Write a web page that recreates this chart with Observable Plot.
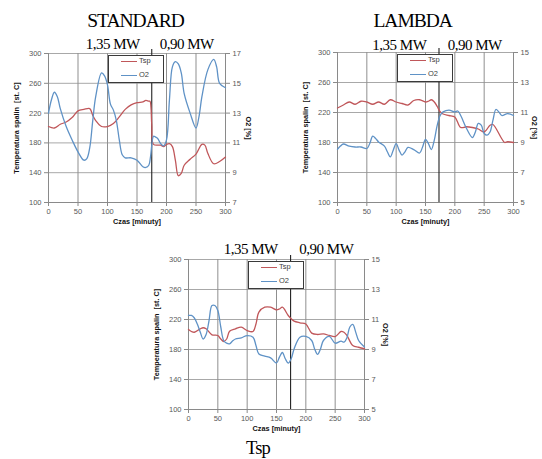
<!DOCTYPE html>
<html>
<head>
<meta charset="utf-8">
<script src="https://cdn.jsdelivr.net/npm/d3@7"></script>
<script src="https://cdn.jsdelivr.net/npm/@observablehq/plot@0.6"></script>
<style>
  html, body { margin: 0; padding: 0; background: #fff; }
  #wrap { position: relative; width: 542px; height: 459px; overflow: hidden; background: #fff; }
  .panel { position: absolute; }
  .serif { position: absolute; font-family: "Liberation Serif", "Times New Roman", serif; color: #000; line-height: 1; white-space: nowrap; transform: translateX(-50%); }
  .big { font-size: 19.5px; letter-spacing: -1px; }
  .bottom { font-size: 18.5px; letter-spacing: -0.8px; }
  .mw { font-size: 15px; letter-spacing: -0.5px; }
  .legend { position: absolute; width: 56px; height: 28px; box-sizing: border-box; border: 1.4px solid #3a3a3a; background: #fff; font-family: "Liberation Sans", Arial, sans-serif; font-size: 7.5px; color: #404040; }
  .legend .sw { position: absolute; left: 11.5px; width: 16px; height: 0; border-top: 1.3px solid; }
  .legend .lb { position: absolute; left: 30px; line-height: 1; transform: translateY(-50%); }
</style>
</head>
<body>
<div id="wrap"></div>
<script>
// ---------- data ----------
const timeTicks = [0, 50, 100, 150, 200, 250, 300];
const tempTicks = [100, 140, 180, 220, 260, 300];
const o2TicksStandard = [7, 9, 11, 13, 15, 17];
const o2TicksLambda = [5, 7, 9, 11, 13, 15];
const o2TicksThird = [5, 7, 9, 11, 13, 15];
const switchTimes = [175, 173, 174];   // moment of change 1,35 MW -> 0,90 MW
const powerLabels = ["1,35 MW", "0,90 MW"];
const panelTitles = ["STANDARD", "LAMBDA", "Tsp"];
const seriesNames = ["Tsp", "O2"];

// STANDARD
const stdTspTime = [0,10,20,30,40,50,60,70,75,80,90,100,110,120,130,140,150,160,165,170,172,175,178,190,195,200,205,210,215,220,225,230,240,250,260,265,270,280,290,300];
const stdTsp     = [202,200,205,208,214,223,225,226,217,210,202,202,206,215,225,231,234,235,237,236,236,205,178,177,175,178,179,175,157,136,139,150,158,165,178,177,166,152,155,161];
const stdO2Time  = [0,5,10,15,20,30,40,50,60,65,70,75,80,90,95,100,105,110,115,120,125,130,140,150,160,165,170,173,178,181,185,190,195,200,205,210,215,220,225,230,240,250,255,260,270,280,285,290,300];
const stdO2      = [13.0,13.9,14.4,14.1,13.3,12.1,11.2,10.4,9.84,9.95,10.7,12.5,14.1,15.7,15.5,14.9,13.6,13.2,12.5,11.2,10.2,10.0,10.0,9.84,9.4,9.35,9.5,10.1,11.45,11.4,11.3,10.96,10.8,11.2,13.9,16.1,16.45,16.3,15.7,14.3,13.0,12.0,12.75,14.1,15.9,16.6,16.1,15.0,14.7];

// LAMBDA
const lamTspTime = [0,10,20,30,40,50,60,70,80,90,100,110,120,130,140,150,155,160,165,170,175,180,190,200,210,220,230,240,250,260,265,270,280,285,290,300];
const lamTsp     = [226,230,234,231,235,234,231,234,231,237,234,232,230,236,237,234,235,237,234,228,221,218,216,214,200,201,200,198,194,203,204,199,185,180,181,180];
const lamO2Time  = [0,5,10,20,30,40,50,55,60,65,70,80,85,90,95,100,105,110,115,120,130,140,145,150,155,160,165,170,175,180,190,200,205,210,220,230,235,240,245,250,255,260,265,270,275,280,290,300];
const lamO2      = [8.55,8.76,8.9,8.76,8.7,8.7,8.6,8.93,9.42,9.27,9.04,8.76,8.38,8.04,8.49,8.93,8.49,8.16,8.38,8.67,8.53,8.3,8.7,9.2,8.93,8.53,9.16,10.16,10.8,11.04,11.16,11.04,11.1,10.8,9.93,9.33,9.7,10.27,10.16,9.6,9.49,9.7,10.49,11.2,11.04,10.8,10.93,10.8];

// third panel
const thrTspTime = [0,5,10,20,25,30,40,50,55,60,65,70,80,90,100,110,115,120,130,140,150,155,160,170,175,180,190,200,210,220,230,240,250,260,265,270,280,290,300];
const thrTsp     = [206.7,204,203,207.6,209,207.6,199.6,198.7,194,190.7,194,204.4,207.6,209.8,205.3,204,214,229.8,236.4,236.4,232.9,234,236.4,225.3,221,217.8,215.6,214,201.8,200,200.9,198.7,197.3,204,203,198.7,185.3,183,181];
const thrO2Time  = [0,5,10,15,20,25,30,35,40,45,50,55,60,65,70,75,80,90,100,110,115,120,130,140,150,155,160,165,170,175,180,190,200,210,215,220,225,230,240,250,260,265,270,275,280,285,290,300];
const thrO2      = [11.27,11.27,11.1,10.7,10.16,9.7,10.0,10.93,11.93,11.93,11.6,10.5,9.6,9.42,9.38,9.56,9.7,9.78,9.93,9.82,9.27,8.7,8.56,8.44,8.1,8.49,8.8,8.38,8.09,8.38,9.04,9.82,9.87,9.6,9.04,8.67,9.04,9.6,9.87,9.42,9.56,9.49,9.78,10.5,10.67,10.16,9.6,9.16];

// ---------- drawing ----------
const RED = "#c0575a";
const BLUE = "#5f92c6";
const wrap = document.getElementById("wrap");

function drawPanel(cfg) {
  const o2Min = cfg.o2Ticks[0];
  const toT = o => 100 + (o - o2Min) * 20;
  const tspData = cfg.tspTime.map((t, i) => ({t, v: cfg.tsp[i]}));
  const o2Data = cfg.o2Time.map((t, i) => ({t, v: toT(cfg.o2[i])}));
  const chart = Plot.plot({
    width: cfg.w, height: cfg.h,
    marginLeft: cfg.ml, marginRight: cfg.mr, marginTop: cfg.mt, marginBottom: cfg.mb,
    x: {domain: [0, 300]},
    y: {domain: [100, 300]},
    style: {fontFamily: "'Liberation Sans', Arial, sans-serif", fontSize: "7.5px", color: "#595959", background: "transparent", overflow: "visible"},
    marks: [
      Plot.gridY(tempTicks, {stroke: "#a8a8a8", strokeOpacity: 1}),
      Plot.gridX(timeTicks, {stroke: "#8f8f8f", strokeOpacity: 1}),
      Plot.ruleX([0, 300], {stroke: "#8a8a8a"}),
      Plot.ruleY([100], {stroke: "#8a8a8a"}),
      Plot.axisY(tempTicks, {anchor: "left", tickSize: 4, tickPadding: 3, label: null, stroke: "#8a8a8a"}),
      Plot.axisY(cfg.o2Ticks.map(toT), {anchor: "right", tickSize: 4, tickPadding: 3, label: null, stroke: "#8a8a8a", tickFormat: d => Math.round((d - 100) / 20 + o2Min)}),
      Plot.axisX(timeTicks, {anchor: "bottom", tickSize: 4, tickPadding: 2, label: null, stroke: "#8a8a8a"}),
      Plot.ruleX([cfg.switchT], {stroke: "#222", strokeWidth: 1.1, insetTop: -4}),
      Plot.line(tspData, {x: "t", y: "v", stroke: RED, strokeWidth: 1.3, curve: "catmull-rom"}),
      Plot.line(o2Data, {x: "t", y: "v", stroke: BLUE, strokeWidth: 1.3, curve: "catmull-rom"}),
      Plot.text([0], {text: () => "Temperatura spalin  [st. C]", frameAnchor: "left", textAnchor: "middle", lineAnchor: "middle", rotate: -90, dx: -32, fontWeight: "bold", fill: "#111", fontSize: 7.3}),
      Plot.text([0], {text: () => "O2 [%]", frameAnchor: "right", textAnchor: "middle", lineAnchor: "middle", rotate: 90, dx: cfg.rdx, fontWeight: "bold", fill: "#111", fontSize: 7.3}),
      Plot.text([0], {text: () => "Czas [minuty]", frameAnchor: "bottom", textAnchor: "middle", lineAnchor: "middle", dy: 19.5, fontWeight: "bold", fill: "#111", fontSize: 7.3})
    ]
  });
  const holder = document.createElement("div");
  holder.className = "panel";
  holder.style.left = cfg.left + "px";
  holder.style.top = cfg.top + "px";
  holder.appendChild(chart);
  wrap.appendChild(holder);

  // legend
  const lg = document.createElement("div");
  lg.className = "legend";
  lg.style.left = (cfg.left + cfg.ml + 60) + "px";
  lg.style.top = (cfg.top + cfg.mt + 1.5) + "px";
  [[seriesNames[0], RED, 6.5], [seriesNames[1], BLUE, 20.5]].forEach(([name, col, yy]) => {
    const sw = document.createElement("div");
    sw.className = "sw"; sw.style.top = (yy - 1) + "px"; sw.style.borderColor = col;
    const lb = document.createElement("div");
    lb.className = "lb"; lb.style.top = (yy - 1) + "px"; lb.textContent = name;
    lg.appendChild(sw); lg.appendChild(lb);
  });
  wrap.appendChild(lg);
}

function addText(txt, cls, cx, top) {
  const d = document.createElement("div");
  d.className = "serif " + cls;
  d.style.left = cx + "px";
  d.style.top = top + "px";
  d.textContent = txt;
  wrap.appendChild(d);
}

drawPanel({left: 0, top: 0, w: 271, h: 230, ml: 48, mr: 46, mt: 53, mb: 28, rdx: 23,
  tspTime: stdTspTime, tsp: stdTsp, o2Time: stdO2Time, o2: stdO2, o2Ticks: o2TicksStandard, switchT: switchTimes[0]});
drawPanel({left: 271, top: 0, w: 271, h: 230, ml: 66, mr: 29, mt: 52, mb: 28, rdx: 21,
  tspTime: lamTspTime, tsp: lamTsp, o2Time: lamO2Time, o2: lamO2, o2Ticks: o2TicksLambda, switchT: switchTimes[1]});
drawPanel({left: 130, top: 230, w: 280, h: 229, ml: 58, mr: 46, mt: 29, mb: 50, rdx: 21,
  tspTime: thrTspTime, tsp: thrTsp, o2Time: thrO2Time, o2: thrO2, o2Ticks: o2TicksThird, switchT: switchTimes[2]});

addText(panelTitles[0], "big", 135.5, 10.6);
addText(panelTitles[1], "big", 412.7, 10.6);
addText(panelTitles[2], "bottom", 258, 439);
addText(powerLabels[0], "mw", 112.7, 37.4);
addText(powerLabels[1], "mw", 186.7, 37.4);
addText(powerLabels[0], "mw", 399.3, 38);
addText(powerLabels[1], "mw", 474.7, 38);
addText(powerLabels[0], "mw", 250.7, 242.4);
addText(powerLabels[1], "mw", 326.3, 242.4);
</script>
</body>
</html>
